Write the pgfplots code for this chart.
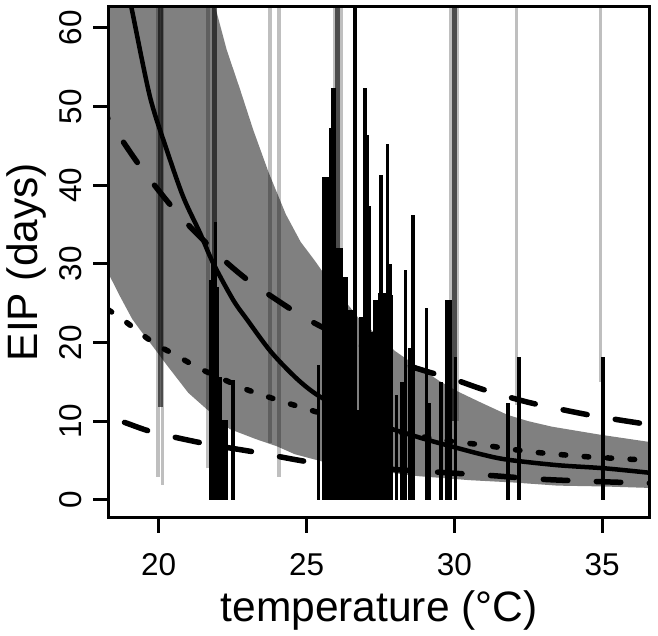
\documentclass[border=0pt]{standalone}
\usepackage{fontspec}
\setmainfont{Liberation Sans}
\usepackage{pgfplots}
\pgfplotsset{compat=1.18}
\definecolor{band}{RGB}{128,128,128}
\pgfplotsset{gl/.style={black, opacity=0.25, line width=3.5bp, forget plot},
  gw/.style={black, opacity=0.25, line width=10bp, forget plot},
  gd/.style={black, opacity=0.6, line width=5bp, forget plot}}
\begin{document}
\begin{tikzpicture}
\begin{axis}[
  at={(0,0)}, anchor=south west,
  width=541.2bp, height=510.8bp, scale only axis,
  xmin=18.30, xmax=36.61, ymin=-2.25, ymax=62.7,
  axis on top,
  axis line style={line width=3bp},
  xtick={20,25,30,35}, ytick={0,10,20,30,40,50,60},
  tick align=outside, tick pos=left, major tick length=15bp,
  every tick/.style={black, line width=3bp},
  /pgf/number format/assume math mode=true,
  ticklabel style={font=\fontsize{31.5bp}{31.5bp}\selectfont},
  xticklabel style={anchor=base, yshift=-42.5bp},
  yticklabel style={rotate=90, anchor=base},
  yticklabel shift=11.5bp,
  xlabel={temperature (°C)}, ylabel={EIP (days)},
  label style={font=\fontsize{42.5bp}{42.5bp}\selectfont},
  xlabel style={at={(axis description cs:0.5,0)}, anchor=base, yshift=-103.5bp},
  ylabel style={at={(axis description cs:-0.1321,0.5)}, anchor=base},
]
% credible band
\addplot[fill=band, draw=none, forget plot] coordinates {
(18.2,70) (21.85,70) (21.91,62.7) (22.3,57.2) (22.75,52.2) (23.2,47.0) (23.72,41.6)
(24.3,36.3) (24.8,32.8) (25.3,30.3) (25.56,28.9) (25.8,27.8) (26.3,25.3) (26.74,23.2)
(27.3,21.2) (28.0,18.9) (28.5,17.6) (28.9,16.6) (29.5,15.1) (30.1,13.8) (30.88,12.4)
(31.8,10.8) (32.5,10.0) (33.3,9.3) (34.1,8.8) (34.9,8.3) (35.8,7.8) (36.7,7.3)
(36.7,1.5) (35.0,1.7) (33.5,1.8) (32.0,2.2) (30.5,2.5) (29.5,2.8) (28.8,3.0) (27.5,3.6)
(26.5,4.2) (25.5,4.9) (24.6,5.8) (24.0,6.8) (23.3,7.7) (22.4,9.0) (21.6,11.6) (21.0,13.6)
(20.3,17.0) (19.8,19.5) (19.37,21.6) (19.1,23.0) (18.7,25.8) (18.2,29.5)
} -- cycle;
% interval segments (semi-transparent)
\addplot[gl] coordinates {(19.98,2.9) (19.98,70)};
\addplot[gl] coordinates {(20.13,1.9) (20.13,70)};
\addplot[gd] coordinates {(20.07,11.8) (20.07,70)};
\addplot[gl] coordinates {(21.67,4.0) (21.67,70)};
\addplot[gd] coordinates {(21.87,10) (21.87,70)};
\addplot[gl] coordinates {(23.77,7.2) (23.77,70)};
\addplot[gl] coordinates {(24.07,2.9) (24.07,70)};
\addplot[gw] coordinates {(26.07,10) (26.07,70)};
\addplot[gd] coordinates {(26.05,10) (26.05,70)};
\addplot[gw] coordinates {(29.99,10) (29.99,70)};
\addplot[gd] coordinates {(30.02,10) (30.02,70)};
\addplot[gl] coordinates {(32.10,12) (32.10,70)};
\addplot[gl] coordinates {(34.94,15) (34.94,70)};
% observed values
\addplot[ycomb, black, line width=3.3bp, mark=none, forget plot] coordinates {
(21.77,28) (21.84,30) (21.91,35.3) (21.99,27) (22.09,15.6) (22.20,10.1) (22.30,10.1) (22.51,15.2)
(25.41,17.1)
(25.58,41.0) (25.66,41.0) (25.74,41.0) (25.80,47.3) (25.87,52.4) (25.95,52.4) (26.03,32)
(26.11,32) (26.18,32) (26.26,28.3) (26.34,28.3) (26.40,20.7) (26.47,24.1) (26.55,24.1)
(26.64,70) (26.74,11.4) (26.84,23.3) (26.91,23.3) (26.98,52.4) (27.06,46.4) (27.14,37.3)
(27.22,21.3) (27.30,25.4) (27.38,25.4) (27.46,26.3) (27.52,41.3) (27.60,26.3) (27.68,26.3)
(27.75,45.3) (27.82,30) (27.88,26)
(28.05,13.3) (28.23,15.0) (28.34,29.2) (28.48,19.3)
(28.60,36.2) (29.05,24.4) (29.14,12.3) (29.55,15.0) (29.75,25.4) (29.86,25.4) (30.03,18.2)
(31.82,12.3) (32.19,18.2) (35.03,18.2)
};
% mean curve
\addplot[smooth, black, line width=4.5bp, forget plot] coordinates {
(18.98,64) (19.07,62.7) (19.70,51.3) (20.27,44.5) (20.83,38.5) (21.40,33.9) (21.84,30.1)
(22.52,25.4) (22.99,22.9) (23.8,18.8) (24.7,15.3) (25.46,13.1) (26.5,11.2) (27.5,9.5) (28.75,8.0)
(29.5,7.2) (30.9,5.8) (31.8,5.1) (33.5,4.4) (35.1,4.0) (36.7,3.4)
};
% upper dashed
\addplot[smooth, black, line width=5.5bp, line cap=round, dash pattern=on 24.5bp off 28.5bp, dash phase=6.7bp, forget plot] coordinates {
(18.0,50.5) (18.28,48.5) (19.37,42.4) (20.62,36.5) (22.0,31.2) (22.99,28.0) (24.0,25.4)
(24.78,23.5) (25.56,21.9) (26.5,20.2) (28.05,17.6) (29.0,16.4) (30.0,15.3) (31.0,14.0)
(32.5,12.4) (34.0,11.2) (35.0,10.5) (36.7,9.5)
};
% dotted
\addplot[smooth, black, line width=5.5bp, line cap=round, dash pattern=on 4.5bp off 18.5bp, forget plot] coordinates {
(18.28,24.2) (18.93,22.5) (19.81,20.0) (20.62,18.3) (21.33,16.8) (22.14,15.4) (22.99,14.0)
(23.77,13.0) (24.61,12.0) (25.5,11.0) (26.5,10.0) (27.5,9.1) (28.5,8.3) (29.97,7.4)
(30.9,7.0) (32.6,6.1) (34.4,5.5) (35.3,5.3) (36.7,5.0)
};
% lower dashed
\addplot[smooth, black, line width=5.5bp, line cap=round, dash pattern=on 24.5bp off 28.5bp, dash phase=36bp, forget plot] coordinates {
(18.28,10.3) (18.79,9.9) (19.81,8.6) (21.63,7.1) (23.36,6.0) (25.12,4.8) (27.0,4.1)
(29.5,3.5) (31.2,3.1) (33.0,2.6) (35.0,2.3) (36.7,2.1)
};
\end{axis}
\pgfresetboundingbox
\path[use as bounding box] (-108.5bp,-118.5bp) rectangle (549.5bp,517.5bp);
\end{tikzpicture}
\end{document}
